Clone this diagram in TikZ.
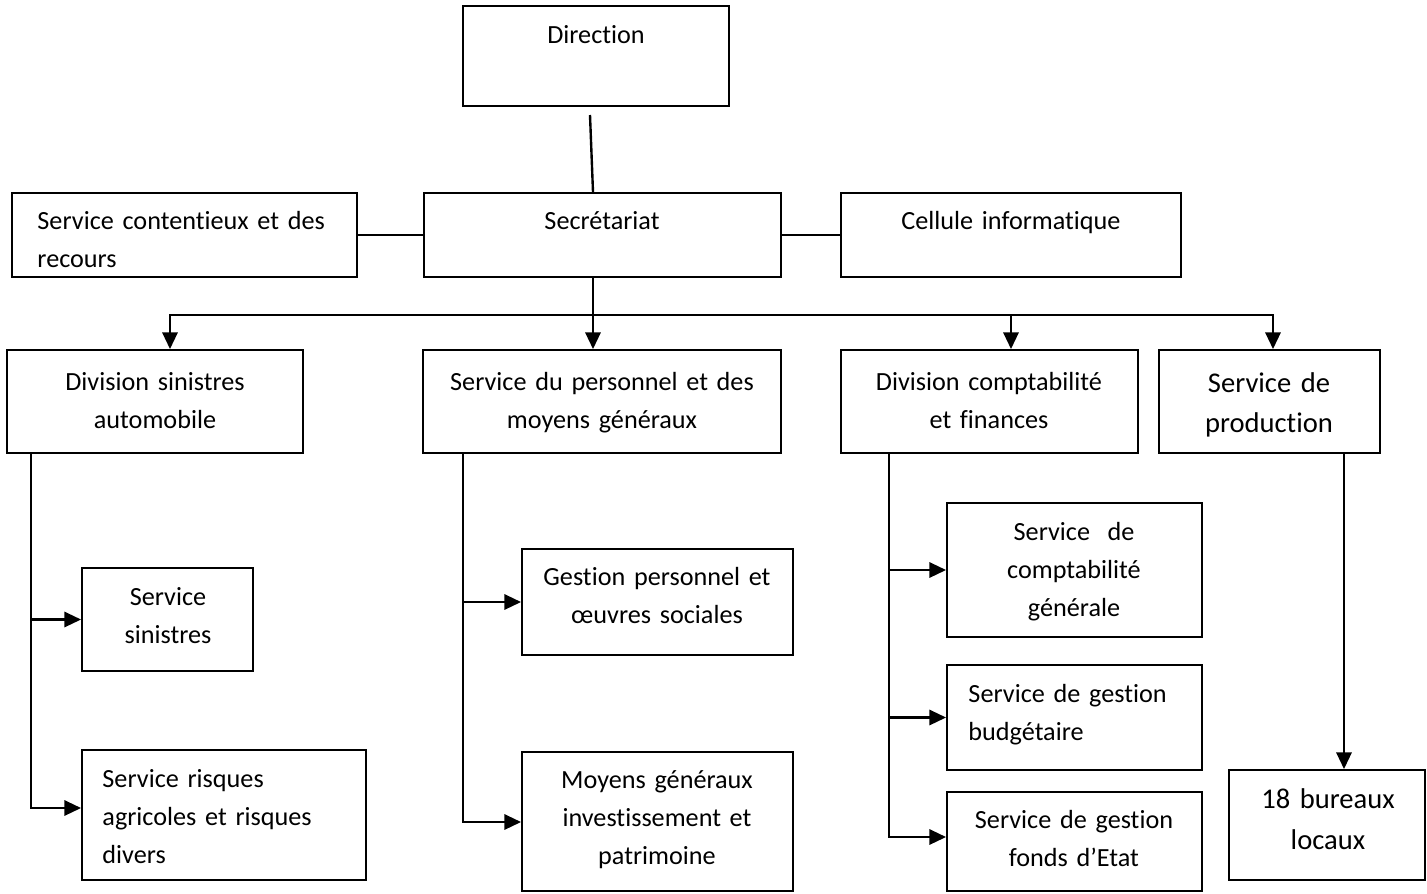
\documentclass[tikz,border=0pt]{standalone}
\usepackage{fontspec}
\setmainfont{Carlito}[Ligatures=NoCommon]
\usetikzlibrary{fit,arrows.meta}

\tikzset{
  box/.style={draw, line width=0.8pt, inner sep=0pt},
  txt/.style={text width=160pt, align=center, inner sep=0pt, anchor=base, font=\fontsize{11}{16}\selectfont},
  txtl/.style={txt, align=left, anchor=base west},
  big/.style={font=\fontsize{12}{16.8}\selectfont},
  link/.style={line width=1pt},
  arr/.style={link, -{Triangle[length=7pt,width=6.4pt]}}
}

\begin{document}
\begin{tikzpicture}[x=0.42pt, y=-0.42pt]

\useasboundingbox (0,0) rectangle (1427,893);

%
% Top level
%
\node[box, fit={(463,6) (729,106)}] (dir) {};
\path (596,43) node[txt] (dirtxt) {Direction};

\node[box, fit={(424,193) (781,277)}] (sec) {};
\path (602,229) node[txt] (sectxt) {Secrétariat};

\node[box, fit={(12,193) (357,277)}] (cont) {};
\path (37,229) node[txtl] (conttxt) {Service contentieux et des\\recours};

\node[box, fit={(841,193) (1181,277)}] (cell) {};
\path (1011,229) node[txt] (celltxt) {Cellule informatique};


%
% Divisions and services
%
\node[box, fit={(7,350) (303,453)}] (dsin) {};
\path (155,390) node[txt] (dsintxt) {Division sinistres\\automobile};

\node[box, fit={(423,350) (781,453)}] (pers) {};
\path (602,390) node[txt] (perstxt) {Service du personnel et des\\moyens généraux};

\node[box, fit={(841,350) (1138,453)}] (dcomp) {};
\path (989,390) node[txt] (dcomptxt) {Division comptabilité\\et finances};

\node[box, fit={(1159,350) (1380,453)}] (prod) {};
\path (1269,392) node[txt, big] (prodtxt) {Service de\\production};


%
% Sub-services
%
\node[box, fit={(82,568) (253,671)}] (ssin) {};
\path (168,605) node[txt] (ssintxt) {Service\\sinistres};

\node[box, fit={(82,750) (366,880)}] (srisk) {};
\path (102,787) node[txtl] (srisktxt) {Service risques\\agricoles et risques\\divers};

\node[box, fit={(522,549) (793,655)}] (gest) {};
\path (657,585) node[txt] (gesttxt) {Gestion personnel et\\œuvres sociales};

\node[box, fit={(522,752) (793,891)}] (moy) {};
\path (657,788) node[txt] (moytxt) {Moyens généraux\\investissement et\\patrimoine};

\node[box, fit={(947,503) (1202,637)}] (scg) {};
\path (1074,540) node[txt] (scgtxt) {Service\ \ de\\comptabilité\\générale};

\node[box, fit={(947,665) (1202,770)}] (sgb) {};
\path (968,702) node[txtl] (sgbtxt) {Service de gestion\\budgétaire};

\node[box, fit={(947,792) (1202,891)}] (sgf) {};
\path (1074,828) node[txt] (sgftxt) {Service de gestion\\fonds d’Etat};

\node[box, fit={(1229,770) (1425,880)}] (bur) {};
\path (1328,808) node[txt, font=\fontsize{12}{17.6}\selectfont] (burtxt) {18 bureaux\\locaux};


%
% Links
%
\coordinate (dtail) at (590,115);
\coordinate (trunk) at (593,315);
\coordinate (busl) at (170,315);
\coordinate (busc) at (1011,315);
\coordinate (busr) at (1273,315);

\draw[link] (dtail) -- (sec.north -| trunk);
\draw[link] (cont.east) -- (sec.west);
\draw[link] (sec.east) -- (cell.west);

\draw[arr] (sec.south -| trunk) -- (pers.north -| trunk);
\draw[arr] (trunk) -- (busl) -- (busl |- dsin.north);
\draw[arr] (trunk) -- (busr) -- (busr |- prod.north);
\draw[arr] (busc) -- (busc |- dcomp.north);

% Division sinistres
\coordinate (spa) at (31,808);
\draw[arr] (spa |- dsin.south) -- (spa) -- (spa -| srisk.west);
\draw[arr] (spa |- ssin.west) -- (ssin.west);

% Service du personnel
\coordinate (spb) at (463,822);
\draw[arr] (spb |- pers.south) -- (spb) -- (spb -| moy.west);
\draw[arr] (spb |- gest.west) -- (gest.west);

% Division comptabilite
\coordinate (spc) at (889,837);
\draw[arr] (spc |- dcomp.south) -- (spc) -- (spc -| sgf.west);
\draw[arr] (spc |- scg.west) -- (scg.west);
\draw[arr] (spc |- sgb.west) -- (sgb.west);

% Production
\coordinate (pdrop) at (1344,0);
\draw[arr] (prod.south -| pdrop) -- (bur.north -| pdrop);

\end{tikzpicture}
\end{document}
